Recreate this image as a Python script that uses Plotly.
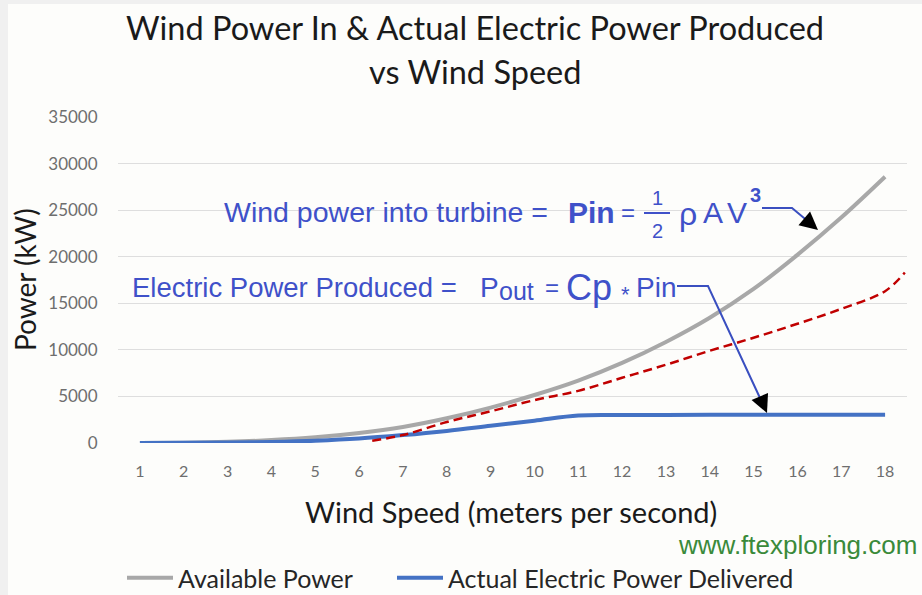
import plotly.graph_objects as go

# ---- data ----
wind_speed = list(range(1, 19))
available_power = [5, 40, 130, 310, 610, 1070, 1720, 2650, 3800, 5150, 6700,
                   8600, 10850, 13450, 16540, 20200, 24200, 28580]
actual_power = [0, 15, 50, 120, 250, 480, 850, 1300, 1850, 2400, 2950,
                3000, 3010, 3020, 3030, 3030, 3030, 3030]
ideal_x = [6.3, 7, 8, 9, 10, 11, 12, 13, 14, 15, 16, 17, 18, 18.45]
ideal_power = [250, 850, 2250, 3400, 4600, 5600, 7000, 8400, 9900, 11300,
               12800, 14400, 16300, 18300]
y_ticks = [0, 5000, 10000, 15000, 20000, 25000, 30000, 35000]
y_tick_labels = ["0", "5000", "10000", "15000", "20000", "25000", "30000", "35000"]

# ---- geometry helpers (pixel -> paper) ----
W, H = 922, 595
L, R, T, B = 118, 907, 117, 443


def fx(px):
    return (px - L) / (R - L)


def fy(py):
    return (B - py) / (B - T)


BLUE_TXT = "#3f51c9"
TXT_FONT = "Liberation Sans, Arial, sans-serif"
XL_FONT = "Lato, Carlito, Calibri, sans-serif"

fig = go.Figure()
fig.add_trace(go.Scatter(x=wind_speed, y=available_power, mode="lines",
                         name="Available Power", legendwidth=209,
                         line=dict(color="#a8a8a8", width=4, shape="spline")))
fig.add_trace(go.Scatter(x=wind_speed, y=actual_power, mode="lines",
                         name="Actual Electric Power Delivered",
                         line=dict(color="#4472c4", width=4, shape="spline")))
fig.add_trace(go.Scatter(x=ideal_x, y=ideal_power, mode="lines",
                         showlegend=False, hoverinfo="skip",
                         line=dict(color="#c00000", width=2.5, dash="9px,5px",
                                   shape="spline")))

ann = []


def txt(text, px, py, size, color=BLUE_TXT, font=TXT_FONT, xanchor="left", **kw):
    ann.append(dict(text=text, x=fx(px), y=fy(py), xref="paper", yref="paper",
                    showarrow=False, xanchor=xanchor, yanchor="middle",
                    font=dict(size=size, color=color, family=font), **kw))


# title
txt("Wind Power In & Actual Electric Power Produced", 475, 27, 32.5,
    color="#1a1a1a", font=XL_FONT, xanchor="center")
txt("vs Wind Speed", 475, 72, 32.5, color="#1a1a1a", font=XL_FONT, xanchor="center")
# axis titles
txt("Power (kW)", 25, 280, 28, color="#1a1a1a", font=XL_FONT,
    xanchor="center", textangle=-90)
txt("Wind Speed (meters per second)", 511, 512, 29, color="#1a1a1a",
    font=XL_FONT, xanchor="center")
# watermark
txt("www.ftexploring.com", 676, 545, 26, color="#3a8a3a")

# formula 1
txt("Wind power into turbine =", 222, 212, 28.5)
txt("<b>Pin</b>", 566, 212, 30)
txt("=", 619, 212, 24)
txt("1", 657, 198, 20, xanchor="center")
txt("2", 657, 231, 20, xanchor="center")
txt("ρ", 677, 214, 32)
txt("A", 701, 212, 30)
txt("V", 725, 212, 30)
txt("<b>3</b>", 748, 195, 20)

# formula 2
txt("Electric Power Produced =", 130, 287, 27.5)
txt("P", 478, 287, 28)
txt("out", 497, 291, 25)
txt("=", 543, 287, 24)
txt("Cp", 564, 287, 36)
txt("*", 619, 294, 22)
txt("Pin", 634, 287, 28)

# arrowheads (black)
ann.append(dict(x=fx(818), y=fy(230), xref="paper", yref="paper", text="",
                showarrow=True, arrowhead=2, arrowsize=1.8, arrowwidth=2,
                arrowcolor="black", ax=-13, ay=-11))
ann.append(dict(x=fx(767), y=fy(413), xref="paper", yref="paper", text="",
                showarrow=True, arrowhead=2, arrowsize=1.8, arrowwidth=2,
                arrowcolor="black", ax=-7, ay=-16))


def path(points):
    return "M " + " L ".join(f"{fx(a):.5f},{fy(b):.5f}" for a, b in points)


shapes = [
    dict(type="rect", xref="paper", yref="paper", x0=fx(0), x1=fx(8),
         y0=fy(H), y1=fy(0), fillcolor="#f0f0f0", line=dict(width=0), layer="below"),
    dict(type="rect", xref="paper", yref="paper", x0=fx(0), x1=fx(W),
         y0=fy(4), y1=fy(0), fillcolor="#f0f0f0", line=dict(width=0), layer="below"),
    dict(type="line", xref="paper", yref="paper", x0=fx(644), x1=fx(670),
         y0=fy(213), y1=fy(213), line=dict(color=BLUE_TXT, width=2)),
    dict(type="path", xref="paper", yref="paper",
         path=path([(762, 208), (792, 208), (810, 223)]),
         line=dict(color="#3a4fc0", width=2)),
    dict(type="path", xref="paper", yref="paper",
         path=path([(677, 286), (708, 286), (760, 398)]),
         line=dict(color="#3a4fc0", width=2)),
]

fig.update_layout(
    width=W, height=H,
    margin=dict(l=L, r=W - R, t=T, b=H - B, pad=0, autoexpand=False),
    paper_bgcolor="#fdfdfb", plot_bgcolor="#fdfdfb",
    font=dict(family=XL_FONT, color="#595959"),
    annotations=ann, shapes=shapes,
    legend=dict(orientation="h", x=fx(122), y=fy(555), xanchor="left",
                yanchor="top", font=dict(size=25, color="#262626", family=XL_FONT),
                itemwidth=46, bgcolor="rgba(0,0,0,0)"),
    xaxis=dict(range=[0.5, 18.5], tickmode="array", tickvals=wind_speed,
               ticktext=[str(v) for v in wind_speed], showgrid=False,
               zeroline=False, showline=False, ticks="outside", ticklen=14,
               tickcolor="rgba(0,0,0,0)", tickfont=dict(size=16, color="#6e6e6e"),
               fixedrange=True),
    yaxis=dict(range=[0, 35000], tickmode="array", tickvals=y_ticks,
               ticktext=y_tick_labels, showgrid=True,
               gridcolor="#dedede", gridwidth=1, zeroline=False, showline=False,
               ticks="outside", ticklen=16, tickcolor="rgba(0,0,0,0)",
               tickfont=dict(size=17, color="#6e6e6e"), fixedrange=True),
)

fig.write_html("out.html", config={"displayModeBar": False},
               post_script="document.body.style.margin='0';")
